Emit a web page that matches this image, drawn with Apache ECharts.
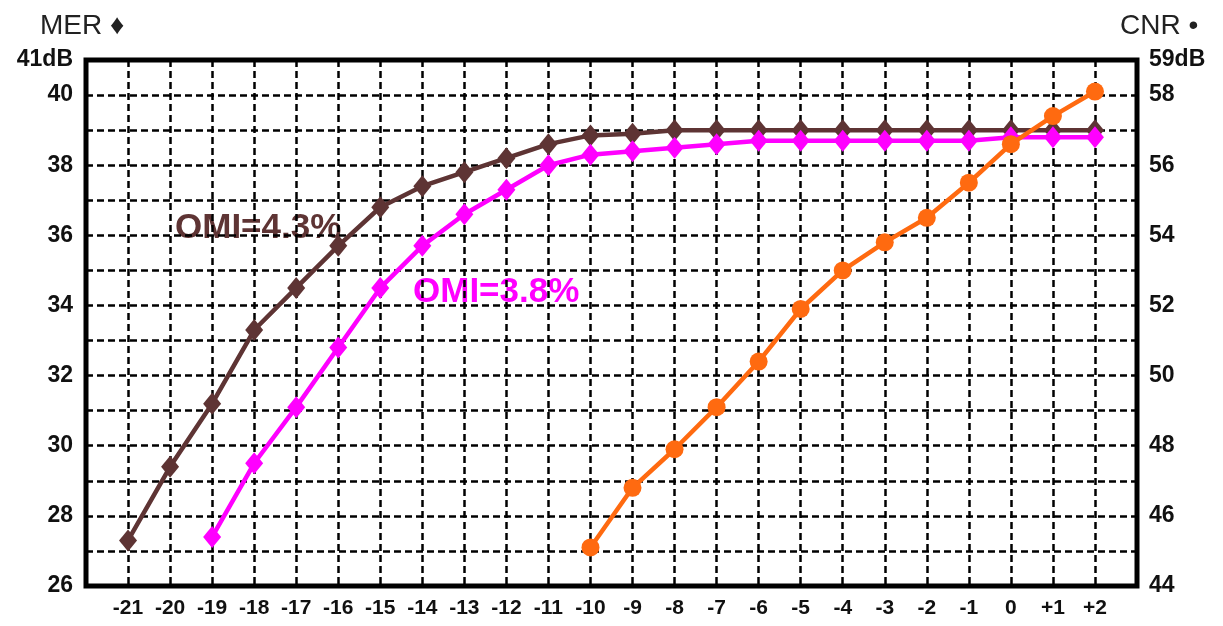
<!DOCTYPE html>
<html>
<head>
<meta charset="utf-8">
<script src="https://cdn.jsdelivr.net/npm/echarts@6/dist/echarts.min.js"></script>
<style>
  html, body { margin: 0; padding: 0; background: #fff; }
  #chart { width: 1223px; height: 626px; }
</style>
</head>
<body>
<div id="chart"></div>
<script>
// CNR offset steps on the x axis
const xValues = [-21, -20, -19, -18, -17, -16, -15, -14, -13, -12, -11, -10, -9, -8, -7, -6, -5, -4, -3, -2, -1, 0, 1, 2]
const xLabels = ['-21', '-20', '-19', '-18', '-17', '-16', '-15', '-14', '-13', '-12', '-11', '-10', '-9', '-8', '-7', '-6', '-5', '-4', '-3', '-2', '-1', '0', '+1', '+2']

// MER (left axis), OMI = 4.3%
const merOmi43 = [27.3, 29.4, 31.2, 33.3, 34.5, 35.7, 36.8, 37.4, 37.8, 38.2, 38.6, 38.85, 38.9, 39.0, 39.0, 39.0, 39.0, 39.0, 39.0, 39.0, 39.0, 39.0, 39.0, 39.0]
// MER (left axis), OMI = 3.8%, starts at -19
const merOmi38 = [null, null, 27.4, 29.5, 31.1, 32.8, 34.5, 35.7, 36.6, 37.3, 38.0, 38.3, 38.4, 38.5, 38.6, 38.7, 38.7, 38.7, 38.7, 38.7, 38.7, 38.8, 38.8, 38.8]
// CNR (right axis), starts at -10
const cnr = [null, null, null, null, null, null, null, null, null, null, null, 45.1, 46.8, 47.9, 49.1, 50.4, 51.9, 53.0, 53.8, 54.5, 55.5, 56.6, 57.4, 58.1]

const leftTicks = [26, 28, 30, 32, 34, 36, 38, 40]
const rightTicks = [44, 46, 48, 50, 52, 54, 56, 58]

const pairs = arr => xValues.map((x, i) => [x, arr[i]]).filter(p => p[1] !== null)

const chart = echarts.init(document.getElementById('chart'))

const labelFont = {
  fontFamily: 'Liberation Sans, Arial, sans-serif',
  fontWeight: 'bold',
  fontSize: 23,
  color: '#111'
}

const dashed = {
  show: true,
  lineStyle: { color: '#000', width: 2.5, type: [7, 4] }
}

chart.setOption({
  animation: false,
  grid: {
    left: 86,
    right: 86,
    top: 60,
    bottom: 40,
    show: true,
    borderColor: '#000',
    borderWidth: 5,
    backgroundColor: 'transparent'
  },
  xAxis: {
    type: 'value',
    min: -22,
    max: 3,
    interval: 1,
    axisLine: { show: false },
    axisTick: { show: false },
    splitLine: dashed,
    axisLabel: Object.assign({}, labelFont, {
      fontSize: 21,
      margin: 12,
      formatter: v => xLabels[xValues.indexOf(v)] || ''
    })
  },
  yAxis: [
    {
      type: 'value',
      min: 26,
      max: 41,
      interval: 1,
      axisLine: { show: false },
      axisTick: { show: false },
      splitLine: dashed,
      axisLabel: Object.assign({}, labelFont, {
        margin: 13,
        showMaxLabel: true,
        formatter: v => v === 41 ? '41dB' : (leftTicks.includes(v) ? String(v) : '')
      })
    },
    {
      type: 'value',
      min: 44,
      max: 59,
      interval: 1,
      position: 'right',
      axisLine: { show: false },
      axisTick: { show: false },
      splitLine: { show: false },
      axisLabel: Object.assign({}, labelFont, {
        margin: 12,
        showMaxLabel: true,
        formatter: v => v === 59 ? '59dB' : (rightTicks.includes(v) ? String(v) : '')
      })
    }
  ],
  series: [
    {
      name: 'OMI=4.3%',
      type: 'line',
      yAxisIndex: 0,
      data: pairs(merOmi43),
      symbol: 'diamond',
      symbolSize: [18, 22],
      itemStyle: { color: '#5e3434' },
      lineStyle: { color: '#5e3434', width: 4.5 },
      z: 3
    },
    {
      name: 'OMI=3.8%',
      type: 'line',
      yAxisIndex: 0,
      data: pairs(merOmi38),
      symbol: 'diamond',
      symbolSize: [18, 22],
      itemStyle: { color: '#ff00ff' },
      lineStyle: { color: '#ff00ff', width: 4.5 },
      z: 4
    },
    {
      name: 'CNR',
      type: 'line',
      yAxisIndex: 1,
      data: pairs(cnr),
      symbol: 'circle',
      symbolSize: 18,
      itemStyle: { color: '#ff6a10' },
      lineStyle: { color: '#ff6a10', width: 4.5 },
      z: 5
    }
  ],
  graphic: [
    {
      type: 'text', left: 40, top: 12,
      style: { text: 'MER ♦', font: '28px "Liberation Sans", Arial, sans-serif', fill: '#222' }
    },
    {
      type: 'text', left: 1120, top: 12,
      style: { text: 'CNR •', font: '28px "Liberation Sans", Arial, sans-serif', fill: '#222' }
    },
    {
      type: 'text', left: 175, top: 211,
      style: { text: 'OMI=4.3%', font: 'bold 35px "Liberation Sans", Arial, sans-serif', fill: '#5e3434' }
    },
    {
      type: 'text', left: 413, top: 275,
      style: { text: 'OMI=3.8%', font: 'bold 35px "Liberation Sans", Arial, sans-serif', fill: '#ff00ff' }
    }
  ]
})
</script>
</body>
</html>
